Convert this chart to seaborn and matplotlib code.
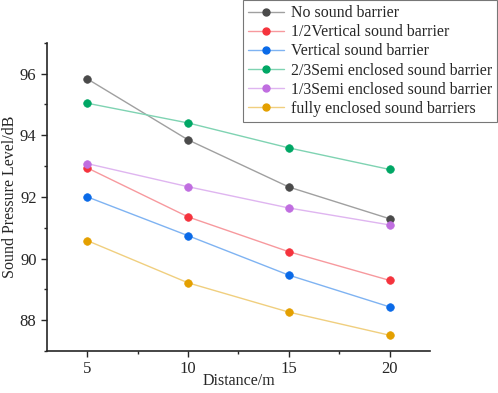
import pandas as pd
import matplotlib
matplotlib.use('Agg')
import matplotlib.pyplot as plt
import seaborn as sns
from matplotlib.ticker import MultipleLocator

# Data
distance = [5, 10, 15, 20]
no_barrier = [95.83, 93.85, 92.32, 91.29]
half_vertical = [92.94, 91.35, 90.22, 89.29]
vertical = [92.00, 90.74, 89.46, 88.43]
semi_2_3 = [95.04, 94.40, 93.59, 92.89]
semi_1_3 = [93.08, 92.33, 91.64, 91.09]
fully_enclosed = [90.58, 89.21, 88.26, 87.51]

labels = ['No sound barrier', '1/2Vertical sound barrier', 'Vertical sound barrier',
          '2/3Semi enclosed sound barrier', '1/3Semi enclosed sound barrier',
          'fully enclosed sound barriers']
series = [no_barrier, half_vertical, vertical, semi_2_3, semi_1_3, fully_enclosed]
marker_colors = ['#4a4a4a', '#f5333d', '#0a6ae8', '#00a765', '#c06ee0', '#e4a000']
line_colors = ['#a0a0a0', '#f7999e', '#7fb3f2', '#7fd3b2', '#dfb5f0', '#f0cf7f']

rows = []
for lab, vals in zip(labels, series):
    for d, v in zip(distance, vals):
        rows.append({'Distance': d, 'SPL': v, 'Case': lab})
df = pd.DataFrame(rows)

sns.set_style('ticks')
plt.rcParams['font.family'] = ['Liberation Serif', 'DejaVu Serif']

fig = plt.figure(figsize=(4.98, 3.93), dpi=100)
ax = fig.add_axes([0.0944, 0.107, 0.769, 0.784])

# lines first, then markers on top
for lab, lc in zip(labels, line_colors):
    sns.lineplot(data=df[df['Case'] == lab], x='Distance', y='SPL', ax=ax,
                 color=lc, linewidth=1.0, legend=False)
for lab, mc in zip(labels, marker_colors):
    sns.scatterplot(data=df[df['Case'] == lab], x='Distance', y='SPL', ax=ax,
                    color=mc, s=30, edgecolor=mc, linewidth=0.5, zorder=5, legend=False)

# legend handles with line + marker
handles = []
for lab, mc, lc in zip(labels, marker_colors, line_colors):
    h, = ax.plot([], [], color=lc, linewidth=1.0, marker='o', markersize=5,
                 markerfacecolor=mc, markeredgecolor=mc, label=lab)
    handles.append(h)
leg = fig.legend(handles=handles, loc='upper right', bbox_to_anchor=(0.997, 0.999),
                 bbox_transform=fig.transFigure, fontsize=11.4, frameon=True,
                 fancybox=False, edgecolor='#555555', handlelength=2.3,
                 handletextpad=0.4, labelspacing=0.2, borderpad=0.3,
                 borderaxespad=0)
leg.get_frame().set_linewidth(0.8)

ax.set_xlim(3, 22)
ax.set_ylim(87, 97)
ax.xaxis.set_major_locator(MultipleLocator(5))
ax.xaxis.set_minor_locator(MultipleLocator(2.5))
ax.yaxis.set_major_locator(MultipleLocator(2))
ax.yaxis.set_minor_locator(MultipleLocator(1))
ax.set_yticks([88, 90, 92, 94, 96])
ax.tick_params(which='major', direction='out', length=4, width=1, labelsize=12)
ax.tick_params(which='minor', direction='out', length=2, width=1)
ax.set_xlabel('Distance/m', fontsize=11.5)
ax.set_ylabel('Sound Pressure Level/dB', fontsize=11.5, labelpad=1)
ax.xaxis.set_label_coords(0.5, -0.07)
sns.despine(ax=ax)
for sp in ['left', 'bottom']:
    ax.spines[sp].set_linewidth(1.2)

fig.savefig('out.png', dpi=100)
